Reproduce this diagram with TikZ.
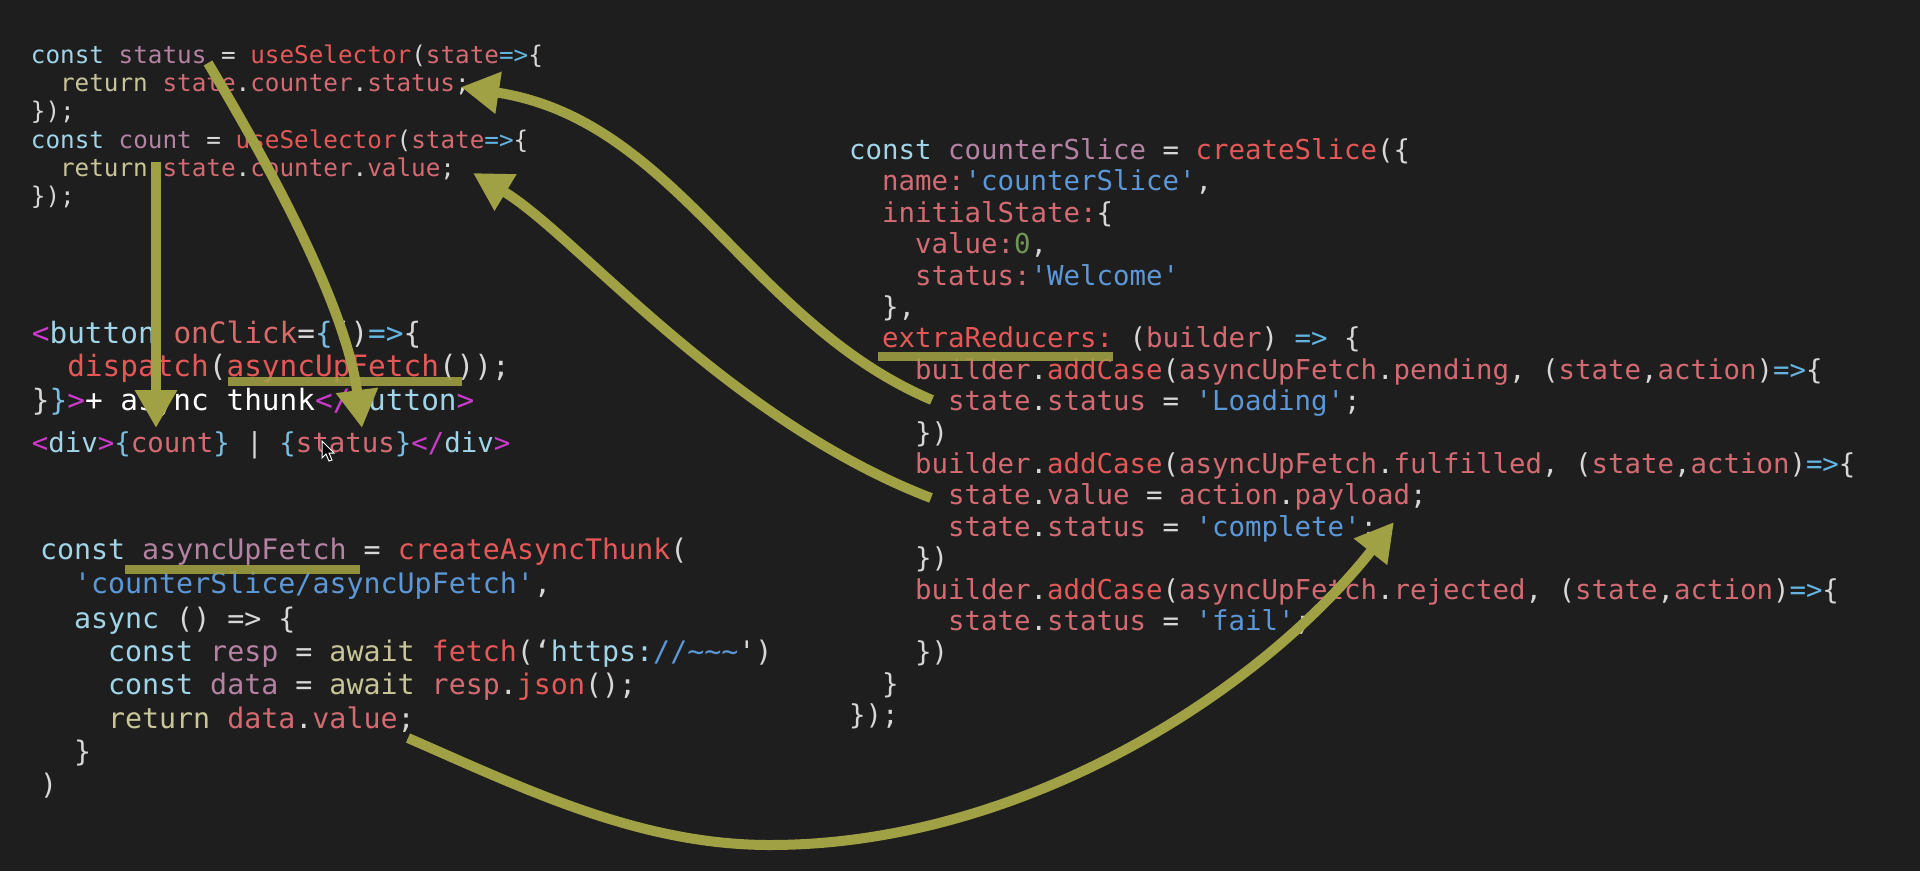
\documentclass[tikz,border=0pt]{standalone}
\usepackage{fontspec}
\setmonofont{DejaVu Sans Mono}
\usepackage{tikz}
\usetikzlibrary{arrows.meta}

\definecolor{bgcol}{RGB}{30,30,30}
\definecolor{puncol}{RGB}{215,215,215}
\definecolor{kwcol}{RGB}{160,212,232}
\definecolor{varcol}{RGB}{180,130,162}
\definecolor{fncol}{RGB}{230,88,88}
\definecolor{propcol}{RGB}{212,106,114}
\definecolor{retcol}{RGB}{200,198,152}
\definecolor{strcol}{RGB}{92,152,216}
\definecolor{numcol}{RGB}{112,150,84}
\definecolor{tagcol}{RGB}{204,58,204}
\definecolor{brcol}{RGB}{122,190,226}
\definecolor{opcol}{RGB}{100,180,226}
\definecolor{attrcol}{RGB}{218,106,106}
\definecolor{arrcol}{RGB}{160,160,68}

\newcommand{\ckw}[1]{\textcolor{kwcol}{#1}}
\newcommand{\cvar}[1]{\textcolor{varcol}{#1}}
\newcommand{\cfn}[1]{\textcolor{fncol}{#1}}
\newcommand{\cprop}[1]{\textcolor{propcol}{#1}}
\newcommand{\cret}[1]{\textcolor{retcol}{#1}}
\newcommand{\cstr}[1]{\textcolor{strcol}{#1}}
\newcommand{\cnum}[1]{\textcolor{numcol}{#1}}
\newcommand{\ctag}[1]{\textcolor{tagcol}{#1}}
\newcommand{\cbr}[1]{\textcolor{brcol}{#1}}
\newcommand{\cop}[1]{\textcolor{opcol}{#1}}
\newcommand{\cattr}[1]{\textcolor{attrcol}{#1}}

\begin{document}
\begin{tikzpicture}[x=1pt, y=-1pt,
  code/.style={anchor=mid west, inner sep=0pt, yshift=-6pt, text=puncol},
  sel/.style={code, font=\ttfamily\fontsize{24.3pt}{28pt}\selectfont},
  btn/.style={code, font=\ttfamily\fontsize{29.4pt}{34pt}\selectfont},
  dvs/.style={code, font=\ttfamily\fontsize{27.4pt}{32pt}\selectfont},
  thk/.style={code, font=\ttfamily\fontsize{28.3pt}{33pt}\selectfont},
  slc/.style={code, font=\ttfamily\fontsize{27.4pt}{31pt}\selectfont},
  arrow/.style={line width=10pt, draw=arrcol, -{Triangle[length=38pt, width=40pt]}},
  uline/.style={line width=9pt, draw=arrcol, opacity=0.88}]
\fill [bgcol] (0,0) rectangle (1920,871);
\useasboundingbox (0,0) rectangle (1920,871);

% useSelector
\node [sel] (s1) at (30.7,55) {\ckw{const} \cvar{status} = \cfn{useSelector}(\cprop{state}\cop{=>}\{};
\node [sel] (s2) at (59.9,83.3) {\cret{return} \cprop{state}.\cprop{counter}.\cprop{status};};
\node [sel] (s3) at (30.7,111.7) {\});};
\node [sel] (s4) at (30.7,140) {\ckw{const} \cvar{count} = \cfn{useSelector}(\cprop{state}\cop{=>}\{};
\node [sel] (s5) at (59.9,168.3) {\cret{return} \cprop{state}.\cprop{counter}.\cprop{value};};
\node [sel] (s6) at (30.7,196.7) {\});};

% button
\node [btn] (b1) at (31.7,335) {\ctag{<}\ckw{button} \cattr{onClick}=\cbr{\{}()\cop{=>}\{};
\node [btn] (b2) at (67.1,368) {\cfn{dispatch}(\cfn{asyncUpFetch}());};
\node [btn] (b3) at (31.7,402) {\}\cbr{\}}\ctag{>}\textcolor{white}{+ async thunk}\ctag{</}\ckw{button}\ctag{>}};
\node [dvs] (dv) at (31.7,444) {\ctag{<}\ckw{div}\ctag{>}\cbr{\{}\cprop{count}\cbr{\}} | \cbr{\{}\cprop{status}\cbr{\}}\ctag{</}\ckw{div}\ctag{>}};

% thunk
\node [thk] (t1) at (39.8,551.7) {\ckw{const} \cvar{asyncUpFetch} = \cfn{createAsyncThunk}(};
\node [thk] (t2) at (73.8,585) {\cstr{'counterSlice/asyncUpFetch'},};
\node [thk] (t3) at (73.8,620) {\ckw{async} () => \{};
\node [thk] (t4) at (107.8,653) {\ckw{const} \cvar{resp} = \cret{await} \cfn{fetch}(‘\ckw{https:}\cstr{//\textasciitilde\textasciitilde\textasciitilde}')};
\node [thk] (t5) at (107.8,686.7) {\ckw{const} \cvar{data} = \cret{await} \cprop{resp}.\cfn{json}();};
\node [thk] (t6) at (107.8,720) {\cret{return} \cprop{data}.\cprop{value};};
\node [thk] (t7) at (73.8,753) {\}};
\node [thk] (t8) at (39.8,786.7) {)};

% slice
\node [slc] (c0) at (849,151.3) {\ckw{const} \cvar{counterSlice} = \cfn{createSlice}(\{};
\node [slc] (c1) at (882,182.7) {\cprop{name:}\cstr{'counterSlice'},};
\node [slc] (c2) at (882,214.1) {\cprop{initialState:}\{};
\node [slc] (c3) at (915,245.5) {\cprop{value:}\cnum{0},};
\node [slc] (c4) at (915,276.9) {\cprop{status:}\cstr{'Welcome'}};
\node [slc] (c5) at (882,308.3) {\},};
\node [slc] (c6) at (882,339.7) {\cfn{extraReducers:} (\cprop{builder}) \cop{=>} \{};
\node [slc] (c7) at (915,371.1) {\cprop{builder}.\cfn{addCase}(\cprop{asyncUpFetch}.\cprop{pending}, (\cprop{state},\cprop{action})\cop{=>}\{};
\node [slc] (c8) at (948,402.5) {\cprop{state}.\cprop{status} = \cstr{'Loading'};};
\node [slc] (c9) at (915,433.9) {\})};
\node [slc] (c10) at (915,465.3) {\cprop{builder}.\cfn{addCase}(\cprop{asyncUpFetch}.\cprop{fulfilled}, (\cprop{state},\cprop{action})\cop{=>}\{};
\node [slc] (c11) at (948,496.7) {\cprop{state}.\cprop{value} = \cprop{action}.\cprop{payload};};
\node [slc] (c12) at (948,528.1) {\cprop{state}.\cprop{status} = \cstr{'complete'};};
\node [slc] (c13) at (915,559.5) {\})};
\node [slc] (c14) at (915,590.9) {\cprop{builder}.\cfn{addCase}(\cprop{asyncUpFetch}.\cprop{rejected}, (\cprop{state},\cprop{action})\cop{=>}\{};
\node [slc] (c15) at (948,622.3) {\cprop{state}.\cprop{status} = \cstr{'fail'};};
\node [slc] (c16) at (915,653.7) {\})};
\node [slc] (c17) at (882,685.1) {\}};
\node [slc] (c18) at (849,716.5) {\});};

% arrow ends
\coordinate (count-from) at (156,162);
\coordinate (count-to) at (156,428);
\coordinate (status-from) at (208,63);
\coordinate (status-to) at (362,428);
\coordinate (loading-from) at (932,400);
\coordinate (loading-to) at (461,87);
\coordinate (payload-from) at (931,498);
\coordinate (payload-to) at (473,173);
\coordinate (value-from) at (408,738);
\coordinate (value-low) at (770,845);
\coordinate (value-to) at (1394,522);

\draw [arrow] (count-from) -- (count-to);
\draw [arrow] (status-from) .. controls (260,150) and (345,300) .. (status-to);
\draw [arrow] (loading-from) .. controls (748,322) and (677,120) .. (loading-to);
\draw [arrow] (payload-from) .. controls (726,419) and (576,235) .. (payload-to);
\draw [arrow] (value-from) .. controls (527,790) and (640,845) .. (value-low) .. controls (1020,845) and (1258,694) .. (value-to);

% underlines
\draw [uline] (228,381) -- (462,381);
\draw [uline] (125,569) -- (360,569);
\draw [uline] (878,356) -- (1113,356);

% mouse pointer
\filldraw [fill=black, draw=white, line width=1pt] (322,441) -- (322,458) -- (326,454) -- (329,461) -- (332,460) -- (329,453) -- (334,453) -- cycle;
\end{tikzpicture}
\end{document}
